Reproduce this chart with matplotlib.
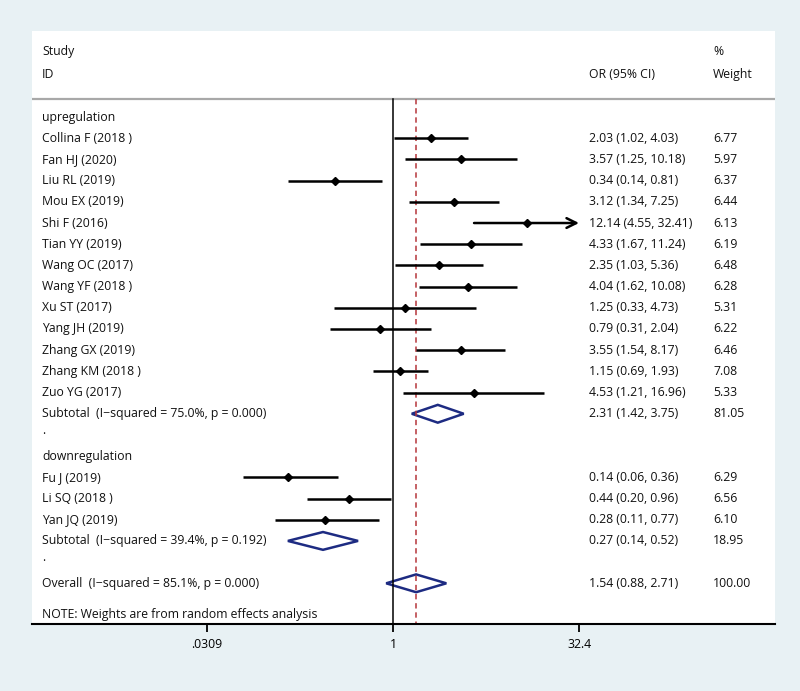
import matplotlib
matplotlib.use("Agg")
import matplotlib.pyplot as plt
from matplotlib.patches import Polygon

plt.rcParams['font.family'] = ['Open Sans', 'DejaVu Sans']

# study level data (OR, 95% CI, % weight)
up_names = ['Collina F (2018 )', 'Fan HJ (2020)', 'Liu RL (2019)', 'Mou EX (2019)',
            'Shi F (2016)', 'Tian YY (2019)', 'Wang OC (2017)', 'Wang YF (2018 )',
            'Xu ST (2017)', 'Yang JH (2019)', 'Zhang GX (2019)', 'Zhang KM (2018 )',
            'Zuo YG (2017)']
up_or = [2.03, 3.57, 0.34, 3.12, 12.14, 4.33, 2.35, 4.04, 1.25, 0.79, 3.55, 1.15, 4.53]
up_lo = [1.02, 1.25, 0.14, 1.34, 4.55, 1.67, 1.03, 1.62, 0.33, 0.31, 1.54, 0.69, 1.21]
up_hi = [4.03, 10.18, 0.81, 7.25, 32.41, 11.24, 5.36, 10.08, 4.73, 2.04, 8.17, 1.93, 16.96]
up_w = [6.77, 5.97, 6.37, 6.44, 6.13, 6.19, 6.48, 6.28, 5.31, 6.22, 6.46, 7.08, 5.33]

down_names = ['Fu J (2019)', 'Li SQ (2018 )', 'Yan JQ (2019)']
down_or = [0.14, 0.44, 0.28]
down_lo = [0.06, 0.20, 0.11]
down_hi = [0.36, 0.96, 0.77]
down_w = [6.29, 6.56, 6.10]

# pooled estimates
sub_labels = ['Subtotal  (I\u2212squared = 75.0%, p = 0.000)',
              'Subtotal  (I\u2212squared = 39.4%, p = 0.192)']
sub_or = [2.31, 0.27]
sub_lo = [1.42, 0.14]
sub_hi = [3.75, 0.52]
sub_w = [81.05, 18.95]

overall_label = 'Overall  (I\u2212squared = 85.1%, p = 0.000)'
overall_or, overall_lo, overall_hi, overall_w = 1.54, 0.88, 2.71, 100.00

xticks = [0.0309, 1, 32.4]
xticklabels = ['.0309', '1', '32.4']
xmin, xmax = 0.00117, 1265

W, H = 800, 691
fig = plt.figure(figsize=(W / 100, H / 100), dpi=100)
fig.patch.set_facecolor('#e8f1f4')
ax = fig.add_axes([32 / W, 1 - 624 / H, (775 - 32) / W, (624 - 31) / H])
ax.set_facecolor('white')
ax.set_xscale('log')
ax.set_xlim(xmin, xmax)
ax.set_ylim(23.92, -4.06)
ax.minorticks_off()

fs = 8.8
txt = dict(fontsize=fs, color='#111111', va='center')
trans = ax.get_yaxis_transform()  # x in axes fraction, y in rows
x_name, x_or, x_w = 0.0135, 0.7497, 0.9166

def fmt(o, l, h):
    return f'{o:.2f} ({l:.2f}, {h:.2f})'

def study_row(y, name, o, l, h, w):
    ax.text(x_name, y, name, transform=trans, **txt)
    ax.text(x_or, y, fmt(o, l, h), transform=trans, **txt)
    ax.text(x_w, y, f'{w:.2f}', transform=trans, **txt)
    if h > xticks[-1]:
        ax.annotate('', xy=(xticks[-1], y), xytext=(l, y),
                    arrowprops=dict(arrowstyle='->,head_length=0.7,head_width=0.35',
                                    color='black', lw=1.8, shrinkA=0, shrinkB=0))
    else:
        ax.plot([l, h], [y, y], color='black', lw=1.8, solid_capstyle='butt')
    ax.plot(o, y, marker='D', color='black', ms=3.8)

def diamond_row(y, label, o, l, h, w):
    ax.text(x_name, y, label, transform=trans, **txt)
    ax.text(x_or, y, fmt(o, l, h), transform=trans, **txt)
    ax.text(x_w, y, f'{w:.2f}', transform=trans, **txt)
    ax.add_patch(Polygon([(l, y), (o, y - 0.42), (h, y), (o, y + 0.42)],
                         closed=True, fill=False, edgecolor='#1d2b82', lw=1.8))

# header
ax.text(x_name, -3.07, 'Study', transform=trans, **txt)
ax.text(x_name, -2.03, 'ID', transform=trans, **txt)
ax.text(x_or, -2.03, 'OR (95% CI)', transform=trans, **txt)
ax.text(x_w, -3.07, '%', transform=trans, **txt)
ax.text(x_w, -2.03, 'Weight', transform=trans, **txt)
ax.axhline(-0.85, color='#a8a8a8', lw=1.6)

# reference lines
ax.plot([1, 1], [-0.85, 23.92], color='black', lw=1.1)
ax.plot([overall_or] * 2, [-0.85, 23.92], color='#b5363a', lw=1.1,
        dashes=(3.5, 2.5))

row = 0
ax.text(x_name, row, 'upregulation', transform=trans, **txt)
for i in range(len(up_names)):
    row += 1
    study_row(row, up_names[i], up_or[i], up_lo[i], up_hi[i], up_w[i])
row += 1
diamond_row(row, sub_labels[0], sub_or[0], sub_lo[0], sub_hi[0], sub_w[0])
row += 1
ax.text(x_name, row - 0.2, '.', transform=trans, **txt)
row += 1
ax.text(x_name, row, 'downregulation', transform=trans, **txt)
for i in range(len(down_names)):
    row += 1
    study_row(row, down_names[i], down_or[i], down_lo[i], down_hi[i], down_w[i])
row += 1
diamond_row(row, sub_labels[1], sub_or[1], sub_lo[1], sub_hi[1], sub_w[1])
row += 1
ax.text(x_name, row - 0.2, '.', transform=trans, **txt)
row += 1
diamond_row(row, overall_label, overall_or, overall_lo, overall_hi, overall_w)
ax.text(x_name, row + 1.45, 'NOTE: Weights are from random effects analysis',
        transform=trans, **txt)

# axes styling
for s in ['top', 'left', 'right']:
    ax.spines[s].set_visible(False)
ax.spines['bottom'].set_linewidth(1.5)
ax.spines['bottom'].set_color('black')
ax.set_yticks([])
ax.set_xticks(xticks)
ax.set_xticklabels(xticklabels)
ax.tick_params(axis='x', length=6, width=1.3, labelsize=fs, pad=4, colors='black')

fig.savefig('out.png', dpi=100, facecolor=fig.get_facecolor())
